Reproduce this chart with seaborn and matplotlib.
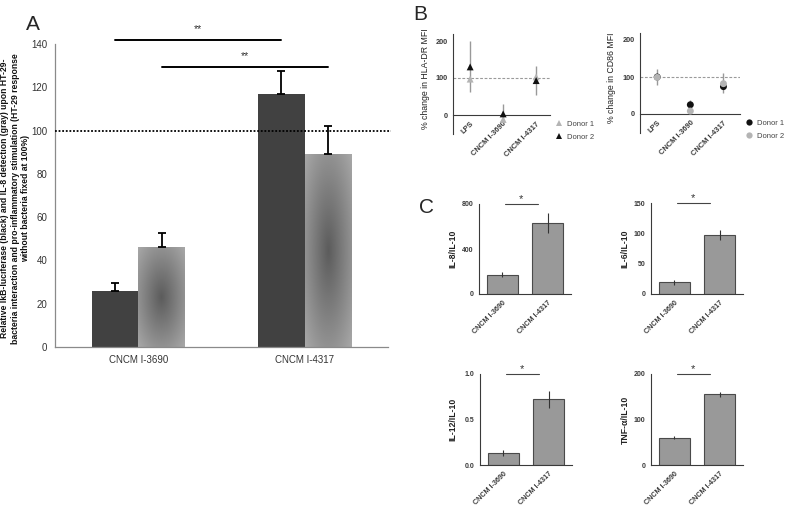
import numpy as np
import pandas as pd
import matplotlib
matplotlib.use("Agg")
import matplotlib.pyplot as plt
import seaborn as sns
from matplotlib.lines import Line2D

sns.set_theme(style="white")
plt.rcParams['font.family'] = ['Liberation Sans', 'DejaVu Sans']

# ---------------- data ----------------
# Panel A
strains = ["CNCM I-3690", "CNCM I-4317"]
a_series = ["IkB-luciferase", "IL-8"]
a_ikb = [26, 117]
a_ikb_err = [3.5, 10.5]
a_il8 = [46, 89]
a_il8_err = [6.5, 13]
a_ref = 100
a_sig_levels = [142, 129.5]

# Panel B
b_cats = ["LPS", "CNCM I-3690", "CNCM I-4317"]
donors = ["Donor 1", "Donor 2"]
hla_donor1 = [97, -12, 103]
hla_donor2 = [130, 3, 93]
hla_low = [63, -15, 55]
hla_high = [200, 30, 133]
cd86_donor1 = [100, 25, 74]
cd86_donor2 = [99, 8, 82]
cd86_low = [78, 13, 57]
cd86_high = [122, 37, 112]
b_ref = 100

# Panel C
c_strains = ["CNCM I-3690", "CNCM I-4317"]
c_labels = ["IL-8/IL-10", "IL-6/IL-10", "IL-12/IL-10", "TNF-\u03b1/IL-10"]
il8_il10 = [170, 630]
il8_il10_err = [22, 90]
il6_il10 = [19, 97]
il6_il10_err = [4, 8]
il12_il10 = [0.13, 0.72]
il12_il10_err = [0.03, 0.09]
tnf_il10 = [60, 155]
tnf_il10_err = [3, 5]
c_ymax = [800, 150, 1.0, 200]
c_yticks = [[0, 400, 800], [0, 50, 100, 150], [0.0, 0.5, 1.0], [0, 100, 200]]
c_ticklabels = [["0", "400", "800"], ["0", "50", "100", "150"],
                ["0.0", "0.5", "1.0"], ["0", "100", "200"]]

# ---------------- figure ----------------
W, H = 786, 519
fig = plt.figure(figsize=(W / 100, H / 100), dpi=100)


def ax_px(x0, y0, x1, y1):
    return fig.add_axes([x0 / W, 1 - y1 / H, (x1 - x0) / W, (y1 - y0) / H])


# ---------------- Panel A ----------------
axA = ax_px(55, 44, 388, 347)
dfA = pd.DataFrame({
    "strain": strains * 2,
    "series": [a_series[0]] * 2 + [a_series[1]] * 2,
    "value": a_ikb + a_il8,
})
sns.barplot(data=dfA, x="strain", y="value", hue="series", hue_order=a_series,
            palette=["#414141", "#9a9a9a"], width=0.56, saturation=1,
            errorbar=None, legend=False, linewidth=0, ax=axA)


def gradient_fill(ax, bar, dark=0.36, light=0.66):
    x0, y0 = bar.get_x(), bar.get_y()
    w, h = bar.get_width(), bar.get_height()
    n = 200
    yy, xx = np.mgrid[-1:1:n * 1j, -1:1:n * 1j]
    r = np.clip(np.sqrt(xx ** 2 + yy ** 2) / np.sqrt(2), 0, 1)
    img = dark + (light - dark) * r
    im = ax.imshow(img, extent=[x0, x0 + w, y0, y0 + h], origin="lower",
                   cmap="gray", vmin=0, vmax=1, aspect="auto",
                   interpolation="bilinear", zorder=bar.get_zorder() + 0.5)
    im.set_clip_path(bar)


errs = [a_ikb_err, a_il8_err]
vals = [a_ikb, a_il8]
bar_conts = list(axA.containers)[:2]
centers = []
for ci, cont in enumerate(bar_conts):
    cs = []
    for bar, v, e in zip(cont, vals[ci], errs[ci]):
        cx = bar.get_x() + bar.get_width() / 2
        cs.append(cx)
        if ci == 1:
            gradient_fill(axA, bar)
        axA.errorbar([cx], [v], yerr=[[0], [e]], fmt="none", ecolor="black",
                     elinewidth=1.3, capsize=3.2, capthick=1.3, zorder=5)
    centers.append(cs)

axA.set_xlim(-0.5, 1.5)
axA.set_ylim(0, 140)
axA.plot([-0.5, 1.52], [a_ref, a_ref], ls=(0, (1, 1)), color="black", lw=1.3,
         clip_on=False, zorder=6)

# significance bars
for k, lev in enumerate(a_sig_levels):
    x_l = centers[k][0]
    x_r = centers[k][1]
    axA.plot([x_l, x_r], [lev, lev], color="black", lw=1.4, clip_on=False)
    axA.text((x_l + x_r) / 2, lev + 2.8, "**", ha="center", va="bottom",
             fontsize=7.5, color="#333333", clip_on=False)

for s in ["top", "right"]:
    axA.spines[s].set_visible(False)
for s in ["left", "bottom"]:
    axA.spines[s].set_color("#8a8a8a")
    axA.spines[s].set_linewidth(0.9)
axA.set_yticks(range(0, 141, 20))
axA.tick_params(axis="y", direction="out", length=3.5, width=0.8,
                colors="#8a8a8a", labelcolor="#333333", labelsize=7, pad=2)
axA.set_xticks([-0.5, 0.5, 1.5])
axA.set_xticklabels([])
axA.set_xticks([0, 1], minor=True)
axA.set_xticklabels(strains, minor=True)
axA.tick_params(axis="x", which="major", direction="out", length=3.5,
                width=0.8, colors="#8a8a8a")
axA.tick_params(axis="x", which="minor", length=0, labelsize=7,
                labelcolor="#333333", pad=6)
axA.set_xlabel("")
axA.set_ylabel("Relative IkB-luciferase (black) and IL-8 detection (gray) upon HT-29-\n"
               "bacteria interaction and pro-inflammatory stimulation (HT-29 response\n"
               "without bacteria fixed at 100%)",
               fontsize=6.2, fontweight="bold", color="#111111", linespacing=1.2,
               va="center")
axA.yaxis.set_label_coords(-0.12, 0.49)

# ---------------- Panel B ----------------
def panel_b(ax, d1, d2, low, high, marker, pal, draw_order, ylabel):
    df = pd.DataFrame({
        "cat": b_cats * 2,
        "donor": [donors[0]] * 3 + [donors[1]] * 3,
        "value": d1 + d2,
    })
    pos = np.arange(len(b_cats))
    ax.vlines(pos, low, high, color="#999999", lw=1.0, zorder=1)
    sns.stripplot(data=df, x="cat", y="value", hue="donor", hue_order=draw_order,
                  palette=pal, jitter=False, dodge=False, marker=marker,
                  size=5, linewidth=0, legend=False, ax=ax, zorder=3)
    ax.axhline(b_ref, color="#9a9a9a", ls=(0, (2.5, 1.5)), lw=0.8, zorder=0)
    ax.set_ylim(-50, 220)
    ax.set_yticks([0, 100, 200])
    ax.set_xlabel("")
    ax.spines["top"].set_visible(False)
    ax.spines["right"].set_visible(False)
    ax.spines["bottom"].set_position(("data", 0))
    for s in ["left", "bottom"]:
        ax.spines[s].set_color("#3a3a3a")
        ax.spines[s].set_linewidth(0.8)
    ax.tick_params(axis="both", direction="out", length=2.5, width=0.7,
                   colors="#3a3a3a", labelsize=5.3, pad=1.5)
    for t in ax.get_yticklabels():
        t.set_fontweight("bold")
    ax.set_xticks(pos)
    ax.set_xticklabels(b_cats, rotation=45, ha="right", rotation_mode="anchor",
                       fontweight="bold", fontsize=5.4)
    ax.set_ylabel(ylabel, fontsize=6.3, color="#222222")
    ax.yaxis.set_label_coords(-0.235, 0.545)
    handles = [Line2D([], [], marker=marker, ls="none", color=pal[d],
                      markersize=4.5, markeredgewidth=0) for d in donors]
    ax.legend(handles, donors, loc="center left", bbox_to_anchor=(1.02, 0.03),
              frameon=False, fontsize=5.5, handlelength=1.0, handletextpad=0.6,
              labelspacing=0.75, borderaxespad=0, labelcolor="#444444")


axB1 = ax_px(453, 33.6, 550, 133.5)
panel_b(axB1, hla_donor1, hla_donor2, hla_low, hla_high, "^",
        {"Donor 1": "#b4b4b4", "Donor 2": "#111111"}, ["Donor 1", "Donor 2"],
        "% change in HLA-DR MFI")
axB1.set_xlim(-0.52, 2.42)

axB2 = ax_px(640, 32.6, 740, 132.5)
panel_b(axB2, cd86_donor1, cd86_donor2, cd86_low, cd86_high, "o",
        {"Donor 1": "#111111", "Donor 2": "#b4b4b4"}, ["Donor 2", "Donor 1"],
        "% change in CD86 MFI")
axB2.set_xlim(-0.52, 2.5)

# ---------------- Panel C ----------------
c_vals = [il8_il10, il6_il10, il12_il10, tnf_il10]
c_errs = [il8_il10_err, il6_il10_err, il12_il10_err, tnf_il10_err]
c_boxes = [(479, 204, 571, 294), (651, 203, 743, 294),
           (480, 374, 572, 465), (651, 374, 743, 465)]
c_labx = [-0.24, -0.24, -0.25, -0.23]

for i in range(4):
    ax = ax_px(*c_boxes[i])
    dfC = pd.DataFrame({"strain": c_strains, "value": c_vals[i]})
    sns.barplot(data=dfC, x="strain", y="value", color="#999999", width=0.67,
                saturation=1, errorbar=None, edgecolor="#4a4a4a", linewidth=0.8,
                ax=ax)
    bars = list(ax.containers[0])
    for bar, v, e in zip(bars, c_vals[i], c_errs[i]):
        cx = bar.get_x() + bar.get_width() / 2
        ax.errorbar([cx], [v], yerr=[e], fmt="none", ecolor="#333333",
                    elinewidth=0.8, capsize=0, zorder=4)
    ax.set_xlim(-0.52, 1.52)
    ax.set_ylim(0, c_ymax[i])
    ax.set_yticks(c_yticks[i])
    ax.set_yticklabels(c_ticklabels[i], fontweight="bold")
    ax.plot([0.05, 0.78], [c_ymax[i], c_ymax[i]], color="#444444", lw=0.8,
            clip_on=False)
    ax.text(0.41, c_ymax[i] * 1.0, "*", ha="center", va="bottom", fontsize=8,
            color="#333333", transform=ax.transData, clip_on=False)
    ax.spines["top"].set_visible(False)
    ax.spines["right"].set_visible(False)
    for s in ["left", "bottom"]:
        ax.spines[s].set_color("#3a3a3a")
        ax.spines[s].set_linewidth(0.8)
    ax.tick_params(axis="both", direction="out", length=2.5, width=0.7,
                   colors="#3a3a3a", labelsize=5.0, pad=1.5)
    ax.set_xticks([0, 1])
    ax.set_xticklabels(c_strains, rotation=45, ha="right", rotation_mode="anchor",
                       fontweight="bold", fontsize=5.2)
    ax.set_xlabel("")
    ax.set_ylabel(c_labels[i], fontsize=6.2, fontweight="bold", color="#222222")
    ax.yaxis.set_label_coords(c_labx[i], 0.5)

# panel letters
fig.text(33 / W, 1 - 24 / H, "A", fontsize=15, ha="center", va="center")
fig.text(420 / W, 1 - 15 / H, "B", fontsize=15, ha="center", va="center")
fig.text(427 / W, 1 - 207 / H, "C", fontsize=15, ha="center", va="center")

fig.savefig("out.png", dpi=100)
